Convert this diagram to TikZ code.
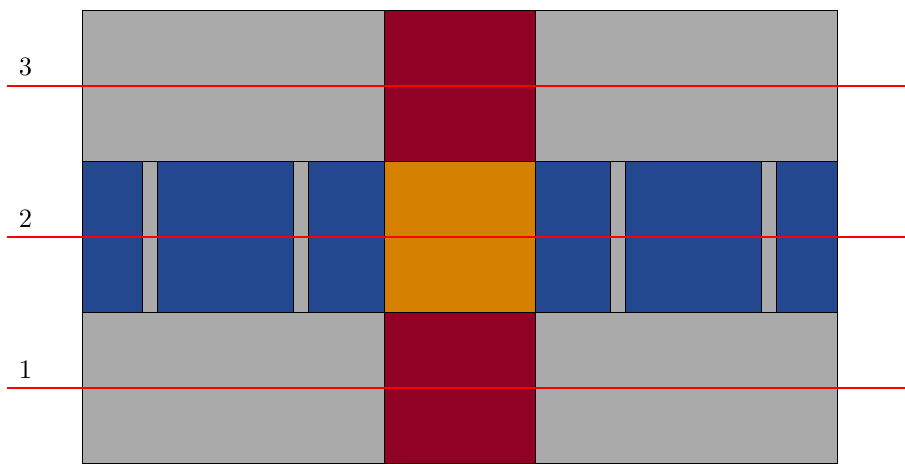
\documentclass[tikz,border=0pt]{standalone}
\usepackage{tikz}
\definecolor{cgray}{RGB}{170,170,170}
\definecolor{cred}{RGB}{145,0,37}
\definecolor{cblue}{RGB}{35,72,143}
\definecolor{corange}{RGB}{214,128,0}
\definecolor{cline}{RGB}{255,0,0}
\tikzset{
  cell/.style={draw=black, line width=0.4pt},
  grayc/.style={cell, fill=cgray},
  redc/.style={cell, fill=cred},
  bluec/.style={cell, fill=cblue},
  orangec/.style={cell, fill=corange},
  levelline/.style={draw=cline, line width=0.6pt},
  lbl/.style={above right, xshift=1pt}
}
\begin{document}
\begin{tikzpicture}[x=2cm,y=2cm]
\useasboundingbox (-0.545,-0.0035) rectangle (5.448,3.069);
% bottom row
\draw[grayc] (0,0) rectangle (2,1);
\draw[redc] (2,0) rectangle (3,1);
\draw[grayc] (3,0) rectangle (5,1);
% top row
\draw[grayc] (0,2) rectangle (2,3);
\draw[redc] (2,2) rectangle (3,3);
\draw[grayc] (3,2) rectangle (5,3);
% middle row
\draw[bluec] (0,1) rectangle (0.4,2);
\draw[grayc] (0.4,1) rectangle (0.5,2);
\draw[bluec] (0.5,1) rectangle (1.4,2);
\draw[grayc] (1.4,1) rectangle (1.5,2);
\draw[bluec] (1.5,1) rectangle (2,2);
\draw[orangec] (2,1) rectangle (3,2);
\draw[bluec] (3,1) rectangle (3.5,2);
\draw[grayc] (3.5,1) rectangle (3.6,2);
\draw[bluec] (3.6,1) rectangle (4.5,2);
\draw[grayc] (4.5,1) rectangle (4.6,2);
\draw[bluec] (4.6,1) rectangle (5,2);
% level lines
\coordinate (l1a) at (-0.5,0.5); \coordinate (l1b) at (5.448,0.5);
\coordinate (l2a) at (-0.5,1.5); \coordinate (l2b) at (5.448,1.5);
\coordinate (l3a) at (-0.5,2.5); \coordinate (l3b) at (5.448,2.5);
\draw[levelline] (l1a) -- (l1b);
\draw[levelline] (l2a) -- (l2b);
\draw[levelline] (l3a) -- (l3b);
\node[lbl] (t1) at (l1a) {1};
\node[lbl] (t2) at (l2a) {2};
\node[lbl] (t3) at (l3a) {3};
\end{tikzpicture}
\end{document}
